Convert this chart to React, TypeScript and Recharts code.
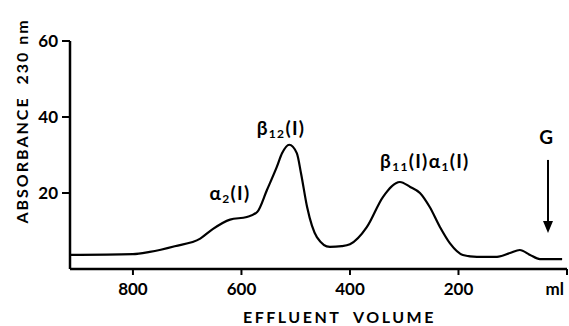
import React from 'react';
import {
  LineChart,
  Line,
  XAxis,
  YAxis,
  ReferenceDot,
  ReferenceLine,
} from 'recharts';

// elution profile (ml from column start, absorbance units)
const volumeMl = [916, 800, 769, 723, 676, 653, 621, 590, 571, 553, 535, 525, 512, 498, 490, 479, 461, 437, 415, 400, 369, 339, 308, 289, 271, 253, 234, 216, 192, 166, 129, 105, 87, 68, 50, 9];
const absorbance = [3.7, 3.9, 4.5, 6.0, 8.0, 10.5, 13.0, 13.7, 15.0, 20.8, 26.8, 30.5, 32.7, 30.5, 25.0, 16.3, 8.4, 5.8, 6.0, 6.5, 11.0, 19.0, 22.9, 21.6, 20.0, 16.3, 11.0, 6.8, 3.7, 3.2, 3.2, 4.2, 5.0, 3.7, 2.6, 2.6];

const xTicks = [0, 200, 400, 600, 800];
const yTicks = [20, 40, 60];

// peak labels, each part is [text, 'sub' | '']
const peakLabels = [
  { ml: 621, y: 19.5, parts: [['α', ''], ['2', 'sub'], ['(I)', '']] },
  { ml: 527, y: 36.6, parts: [['β', ''], ['12', 'sub'], ['(I)', '']] },
  { ml: 262, y: 27.9, parts: [['β', ''], ['11', 'sub'], ['(I)α', ''], ['1', 'sub'], ['(I)', '']] },
  { ml: 37, y: 34.2, parts: [['G', '']] },
];
const markerArrow = { ml: 35, from: 28.7, to: 9.5 };

const data = volumeMl.map((v, i) => ({ ml: v, abs: absorbance[i] }));

const FONT = 'Lato, "DejaVu Sans", sans-serif';

function XTick({ x, y, payload }: any) {
  if (payload.value === 0) {
    return (
      <text x={x - 3} y={y} dy="0.71em" textAnchor="end" fontFamily={FONT} fontWeight={700} fontSize={17} fill="#000">
        ml
      </text>
    );
  }
  return (
    <text x={x} y={y} dy="0.71em" textAnchor="middle" fontFamily={FONT} fontWeight={700} fontSize={17} fill="#000">
      {payload.value}
    </text>
  );
}

function Annot({ cx, cy, parts }: any) {
  return (
    <text
      x={cx}
      y={cy}
      textAnchor="middle"
      dominantBaseline="middle"
      fontFamily={FONT}
      fontWeight={700}
      fontSize={19}
      letterSpacing={1.3}
      fill="#000"
    >
      {parts.map((p: string[], i: number) =>
        p[1] === 'sub' ? (
          <tspan key={i} fontSize={12} dy={5}>{p[0]}</tspan>
        ) : (
          <tspan key={i} dy={i > 0 && parts[i - 1][1] === 'sub' ? -5 : 0}>{p[0]}</tspan>
        )
      )}
    </text>
  );
}

function Arrow({ x1, y1, x2, y2 }: any) {
  return (
    <g>
      <line x1={x1} y1={y1} x2={x2} y2={y2 - 4} stroke="#000" strokeWidth={2} />
      <polygon points={`${x2 - 5},${y2 - 12} ${x2 + 5},${y2 - 12} ${x2},${y2}`} fill="#000" />
    </g>
  );
}

export default function App() {
  return (
    <div style={{ position: 'absolute', left: 0, top: 0, width: 569, height: 326, background: '#fff' }}>
      <LineChart width={569} height={326} data={data} margin={{ top: 41, right: 2, bottom: 26, left: 20 }}>
        <XAxis
          dataKey="ml"
          type="number"
          domain={[0, 916]}
          reversed
          ticks={xTicks}
          interval={0}
          tick={<XTick />}
          tickSize={6}
          tickMargin={8}
          height={31}
          stroke="#000"
          strokeWidth={2.5}
          tickLine={{ stroke: '#000', strokeWidth: 2 }}
          allowDataOverflow
          label={{
            content: ({ viewBox }: any) => (
              <text
                x={viewBox.x + viewBox.width / 2 + 21}
                y={viewBox.y + 50}
                textAnchor="middle"
                dominantBaseline="middle"
                fontFamily={FONT}
                fontWeight={700}
                fontSize={16}
                letterSpacing={2.5}
                fill="#000"
                style={{ whiteSpace: 'pre' }}
              >
                EFFLUENT  VOLUME
              </text>
            ),
          }}
        />
        <YAxis
          type="number"
          domain={[0, 60]}
          ticks={yTicks}
          interval={0}
          width={50}
          tickSize={8}
          tickMargin={4}
          stroke="#000"
          strokeWidth={2.5}
          tickLine={{ stroke: '#000', strokeWidth: 2 }}
          tick={{ fill: '#000', fontFamily: FONT, fontWeight: 700, fontSize: 17 }}
          label={{
            content: () => (
              <text
                x={24}
                y={121}
                transform="rotate(-90 24 121)"
                textAnchor="middle"
                dominantBaseline="middle"
                fontFamily={FONT}
                fontWeight={700}
                fontSize={16}
                letterSpacing={2}
                fill="#000"
                style={{ whiteSpace: 'pre' }}
              >
                ABSORBANCE  230 nm
              </text>
            ),
          }}
        />
        <Line
          type="monotone"
          dataKey="abs"
          stroke="#000"
          strokeWidth={2.2}
          dot={false}
          isAnimationActive={false}
        />
        {peakLabels.map((p, i) => (
          <ReferenceDot
            key={i}
            x={p.ml}
            y={p.y}
            r={0}
            ifOverflow="visible"
            shape={(props: any) => <Annot cx={props.cx} cy={props.cy} parts={p.parts} />}
          />
        ))}
        <ReferenceLine
          segment={[
            { x: markerArrow.ml, y: markerArrow.from },
            { x: markerArrow.ml, y: markerArrow.to },
          ]}
          ifOverflow="visible"
          shape={(props: any) => <Arrow {...props} />}
        />
      </LineChart>
    </div>
  );
}
